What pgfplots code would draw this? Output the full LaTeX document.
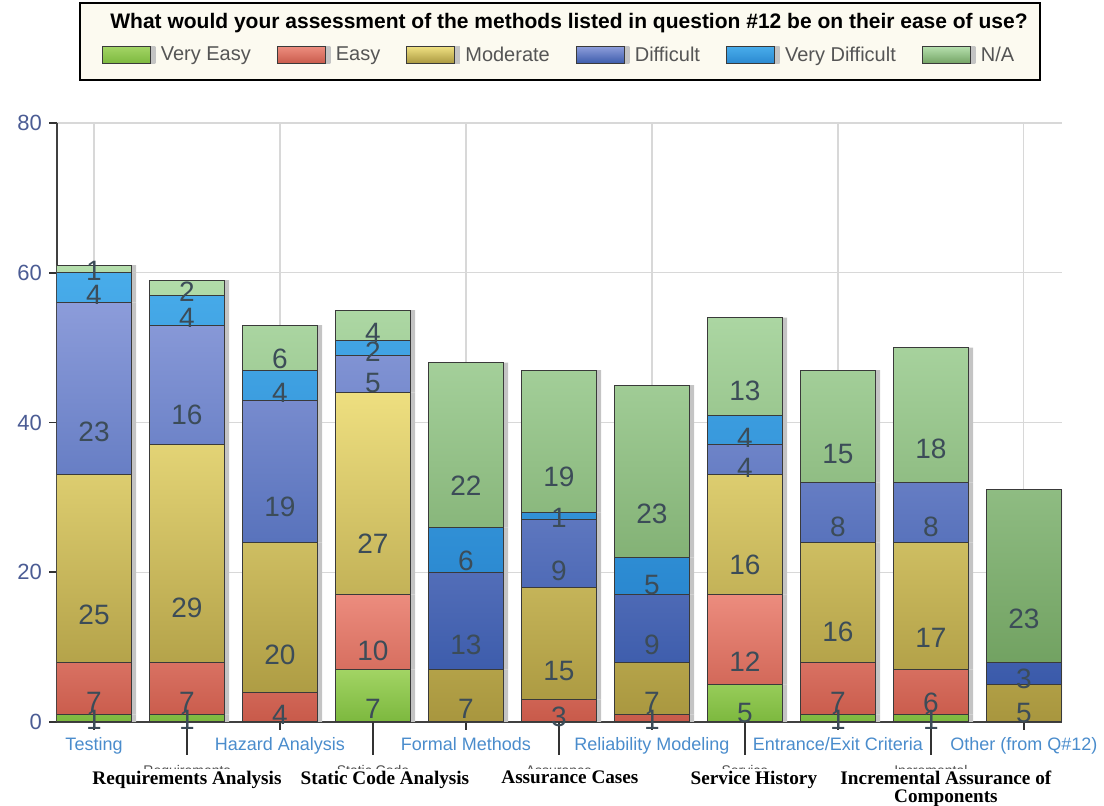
\documentclass[border=0pt]{standalone}
\usepackage{pgfplots}
\pgfplotsset{compat=1.18}
\usepackage{pgfplotstable}
\usepackage{fontspec}
\setmainfont{Liberation Sans}
\newfontfamily\capfont{Liberation Serif}

% series colours (top / bottom of each shaded segment)
\definecolor{veT}{HTML}{A2D464}\definecolor{veB}{HTML}{7CB83E}
\definecolor{eT}{HTML}{EC8C7E}\definecolor{eB}{HTML}{C85A4A}
\definecolor{mT}{HTML}{EEDF80}\definecolor{mB}{HTML}{A8963E}
\definecolor{dT}{HTML}{8C9CDA}\definecolor{dB}{HTML}{3A5AAA}
\definecolor{vdT}{HTML}{48ACEA}\definecolor{vdB}{HTML}{2A88D0}
\definecolor{naT}{HTML}{B4DEAC}\definecolor{naB}{HTML}{72A262}
\definecolor{barline}{HTML}{3A3A3A}
\definecolor{valtext}{HTML}{3C4C58}
\definecolor{ytext}{HTML}{4B5C94}
\definecolor{xtext}{HTML}{4A8CCC}
\definecolor{legtext}{HTML}{555555}
\definecolor{legbg}{HTML}{FCFAF0}
\definecolor{gridcol}{HTML}{D8D8D8}
\definecolor{shadowcol}{HTML}{C4C4C4}

% responses per method: very easy, easy, moderate, difficult, very difficult, n/a
\pgfplotstableread{
x  ve  e   m   d   vd  na
0  1   7   25  23  4   1
1  1   7   29  16  4   2
2  0   4   20  19  4   6
3  7   10  27  5   2   4
4  0   0   7   13  6   22
5  0   3   15  9   1   19
6  0   1   7   9   5   23
7  5   12  16  4   4   13
8  1   7   16  8   0   15
9  1   6   17  8   0   18
10 0   0   5   3   0   23
}\survey

% small clipped category name with the bold caption over it
\newcommand{\lowlabel}[3][0pt]{\begin{tabular}{@{}c@{}}{\fontsize{7}{7}\selectfont\color{black!70}#2}\\[-6pt]\hspace*{#1}{\setlength{\fboxsep}{1pt}\colorbox{white}{\capfont\bfseries\fontsize{9.6}{10.5}\selectfont\renewcommand{\arraystretch}{0.8}\begin{tabular}{@{}c@{}}#3\end{tabular}}}\end{tabular}}

\begin{document}
\begin{tikzpicture}
\useasboundingbox (0,0) rectangle (552pt,403pt);
% framed heading with the legend inside
\draw[line width=1.1pt, fill=legbg] (40pt,363pt) rectangle (520pt,401.5pt);
\node[font=\bfseries\fontsize{10.5}{12}\selectfont] at (284.5pt,391.5pt)
  {What would your assessment of the methods listed in question \#12 be on their ease of use?};
\begin{axis}[
  at={(28.5pt,42pt)}, anchor=south west,
  scale only axis, width=502.5pt, height=299.5pt,
  ybar stacked, bar width=0.8,
  xmin=-0.398, xmax=10.41, ymin=0, ymax=80,
  axis x line*=bottom, axis y line*=left,
  x axis line style={-, draw=black!75, line width=0.8pt},
  y axis line style={-, draw=black!75, line width=0.8pt},
  tick align=outside,
  major tick length=4pt,
  tick style={draw=black!80, line width=0.8pt},
  ytick={0,20,40,60,80},
  yticklabel style={font=\fontsize{11}{12}\selectfont, text=ytext},
  /pgf/number format/assume math mode=true,
  xtick={0,2,4,6,8,10},
  xticklabels={Testing, Hazard Analysis, Formal Methods, Reliability Modeling, Entrance/Exit Criteria, Other (from Q\#12)},
  xticklabel style={font=\fontsize{9}{10}\selectfont, text=xtext},
  extra x ticks={1,3,5,7,9},
  extra x tick labels={
    \lowlabel{Requirements}{Requirements Analysis},
    \lowlabel[12pt]{Static Code}{Static Code Analysis},
    \lowlabel[11pt]{Assurance}{Assurance Cases},
    \lowlabel[9pt]{Service}{Service History},
    \lowlabel[15pt]{Incremental}{Incremental Assurance of\\Components}},
  extra x tick style={grid=none, major tick length=16.5pt,
    xticklabel style={text=black, yshift=0.5pt}},
  xmajorgrids, ymajorgrids,
  grid style={draw=gridcol, line width=0.6pt},
  legend columns=6,
  legend style={at={(0.5005,1.113)}, anchor=center, draw=none, fill=none,
    font=\fontsize{10}{12}\selectfont, text=legtext,
    /tikz/every odd column/.append style={column sep=3pt},
    /tikz/every even column/.append style={column sep=11pt}},
  legend image code/.code={\draw[#1] (0pt,-4.25pt) rectangle (24pt,4.25pt);},
  every axis plot/.append style={draw=barline, line width=0.5pt,
    preaction={draw=none, top color=shadowcol, bottom color=shadowcol,
      transform canvas={xshift=2.5pt}}},
  point meta=explicit,
  visualization depends on=rawy \as \rawy,
  nodes near coords={\pgfmathfloatifflags{\pgfplotspointmeta}{0}{}{\pgfmathprintnumber{\pgfplotspointmeta}}},
  every node near coord/.append style={anchor=center, text=valtext,
    font=\fontsize{14}{14}\selectfont,
    yshift={-0.9359375pt*\rawy}},
]
\addplot[top color=veT, bottom color=veB] table[x=x, y=ve, meta=ve] {\survey};
\addplot[top color=eT, bottom color=eB] table[x=x, y=e, meta=e] {\survey};
\addplot[top color=mT, bottom color=mB] table[x=x, y=m, meta=m] {\survey};
\addplot[top color=dT, bottom color=dB] table[x=x, y=d, meta=d] {\survey};
\addplot[top color=vdT, bottom color=vdB] table[x=x, y=vd, meta=vd] {\survey};
\addplot[top color=naT, bottom color=naB] table[x=x, y=na, meta=na] {\survey};
\legend{Very Easy, Easy, Moderate, Difficult, Very Difficult, N/A}
\end{axis}
\end{tikzpicture}
\end{document}
